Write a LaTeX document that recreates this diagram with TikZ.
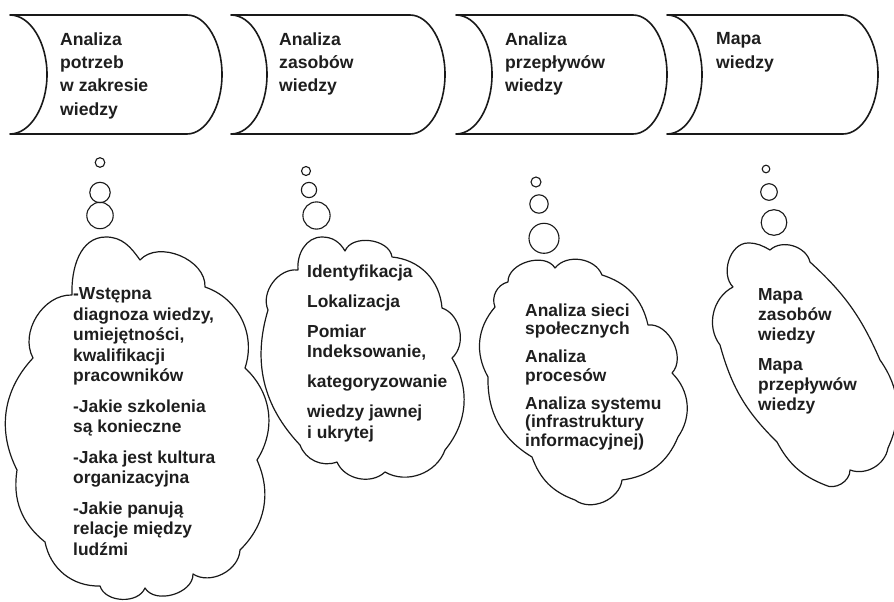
\documentclass[tikz,border=0pt]{standalone}
\usepackage{fontspec}
\setmainfont{Liberation Sans}
\usepackage{tikz}
\usetikzlibrary{positioning}
\definecolor{kmline}{RGB}{25,25,25}
\definecolor{kmtext}{RGB}{30,30,30}
\tikzstyle{stage} = [draw=kmline, line width=1.6pt, line join=round]
\tikzstyle{thought} = [draw=kmline, line width=1.2pt, line join=round, line cap=round]
\tikzstyle{bubble} = [draw=kmline, line width=1.1pt]
\tikzstyle{stagetext} = [anchor=north west, inner sep=0pt, align=left, text=kmtext, font=\fontsize{17.6}{23.3}\selectfont\bfseries]
\tikzstyle{cloudtext} = [anchor=north west, inner sep=0pt, align=left, text=kmtext, font=\fontsize{17.4}{20.5}\selectfont\bfseries]

\begin{document}
\begin{tikzpicture}[x=1pt, y=1pt]
\useasboundingbox (0,0) rectangle (894,-602);
% Stages
\draw[stage] (10,-15) -- (187,-15) .. controls (206,-15) and (222,-42) .. (222,-74.5) .. controls (222,-107) and (206,-134) .. (187,-134) -- (10,-134) .. controls (30,-134) and (47,-107) .. (47,-74.5) .. controls (47,-42) and (30,-15) .. (10,-15) -- cycle;
\draw[stage] (231,-15) -- (410,-15) .. controls (429,-15) and (445,-42) .. (445,-74.5) .. controls (445,-107) and (429,-134) .. (410,-134) -- (231,-134) .. controls (251,-134) and (267,-107) .. (267,-74.5) .. controls (267,-42) and (251,-15) .. (231,-15) -- cycle;
\draw[stage] (456,-15) -- (633,-15) .. controls (652,-15) and (667,-42) .. (667,-74.5) .. controls (667,-107) and (652,-134) .. (633,-134) -- (456,-134) .. controls (476,-134) and (492,-107) .. (492,-74.5) .. controls (492,-42) and (476,-15) .. (456,-15) -- cycle;
\draw[stage] (667,-15) -- (843,-15) .. controls (862,-15) and (878,-42) .. (878,-74.5) .. controls (878,-107) and (862,-134) .. (843,-134) -- (667,-134) .. controls (687,-134) and (702,-107) .. (702,-74.5) .. controls (702,-42) and (687,-15) .. (667,-15) -- cycle;

\node[stagetext] (stage1) at (60,-32.4) {Analiza\\potrzeb\\w zakresie\\wiedzy};
\node[stagetext] (stage2) at (279,-32.4) {Analiza\\zasobów\\wiedzy};
\node[stagetext] (stage3) at (505,-32.4) {Analiza\\przepływów\\wiedzy};
\node[stagetext] (stage4) at (716,-32.4) {Mapa\\wiedzy};

% Bubbles
\draw[bubble] (100,-162.5) circle (4.8);
\draw[bubble] (100,-192.5) circle (10.2);
\draw[bubble] (100,-215.5) circle (13.2);
\draw[bubble] (306,-171) circle (4.5);
\draw[bubble] (309,-190) circle (7.6);
\draw[bubble] (316.5,-215.5) circle (13.6);
\draw[bubble] (536,-182) circle (5);
\draw[bubble] (539,-204) circle (9.2);
\draw[bubble] (544,-238.3) circle (15);
\draw[bubble] (766,-169) circle (3.8);
\draw[bubble] (769,-192) circle (8.3);
\draw[bubble] (774,-222.5) circle (12.8);

% Clouds
\draw[thought] (72,-295) to[out=92,in=180] (106,-237) to[out=0,in=125] (140,-260)
  to[bend left=70] (205,-287) to[bend left=45] (245,-368) to[bend left=40] (257,-460)
  to[bend left=35] (240,-550) to[bend left=60] (193,-574) to[bend left=75] (145,-588)
  to[bend left=70] (100,-586) to[bend left=40] (45,-542) to[bend left=30] (17,-470)
  to[bend left=35] (33,-358) to[bend left=60] (72,-295);
\draw[thought] (298,-270) to[out=95,in=180] (322,-237) to[out=0,in=120] (345,-251)
  to[bend left=75] (392,-257) to[bend left=40] (442,-308) to[bend left=60] (452,-358)
  to[bend left=35] (445,-450) to[bend left=50] (385,-472) to[bend left=55] (337,-462)
  to[bend left=45] (300,-445) to[bend left=30] (268,-310) to[bend left=60] (298,-270);
\draw[thought] (508,-282) to[bend left=75] (555,-268) to[bend left=60] (602,-275)
  to[bend left=30] (648,-325) to[bend left=70] (672,-373) to[bend left=40] (678,-437)
  to[bend left=30] (622,-480) to[bend left=60] (575,-500) to[bend left=25] (532,-457)
  to[bend left=30] (488,-377) to[bend left=35] (495,-307) to[bend left=50] (508,-282);
\draw[thought] (733,-287) to[out=135,in=180] (748,-243) to[out=0,in=150] (770,-250)
  to[bend left=60] (810,-262) to[bend left=12] (880,-360) to[bend left=30] (888,-448)
  to[bend left=50] (850,-470) to[bend left=60] (825,-485) to[bend left=20] (777,-442)
  to[bend left=15] (720,-345) to[bend left=50] (733,-287);

\node[cloudtext] (cloud1) at (73,-287.8) {-Wstępna\\diagnoza wiedzy,\\umiejętności,\\kwalifikacji\\pracowników\\[10pt]-Jakie szkolenia\\są konieczne\\[10pt]-Jaka jest kultura\\organizacyjna\\[10pt]-Jakie panują\\relacje między\\ludźmi};
\node[cloudtext] (cloud2) at (307,-264.6) {Identyfikacja\\[9.5pt]Lokalizacja\\[9.5pt]Pomiar\\Indeksowanie,\\[9.5pt]kategoryzowanie\\[9.5pt]wiedzy jawnej\\i ukrytej};
\node[cloudtext, font=\fontsize{17.4}{18.5}\selectfont\bfseries] (cloud3) at (525,-303.6) {Analiza sieci\\społecznych\\[9.5pt]Analiza\\procesów\\[9.5pt]Analiza systemu\\(infrastruktury\\informacyjnej)};
\node[cloudtext, font=\fontsize{17.4}{20}\selectfont\bfseries] (cloud4) at (758,-288.5) {Mapa\\zasobów\\wiedzy\\[10pt]Mapa\\przepływów\\wiedzy};
\end{tikzpicture}
\end{document}
